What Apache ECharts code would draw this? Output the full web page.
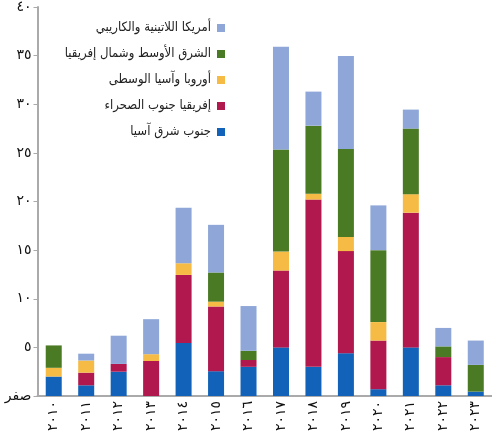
<!DOCTYPE html>
<html><head><meta charset="utf-8">
<script src="https://cdn.jsdelivr.net/npm/echarts@6/dist/echarts.min.js"></script>
<style>html,body{margin:0;padding:0;background:#fff}#c{width:492px;height:443px}</style>
</head><body><div id="c"></div>
<script>
const categories = ['٢٠١٠','٢٠١١','٢٠١٢','٢٠١٣','٢٠١٤','٢٠١٥','٢٠١٦','٢٠١٧','٢٠١٨','٢٠١٩','٢٠٢٠','٢٠٢١','٢٠٢٢','٢٠٢٣'];
const yTickLabels = ['صفر','٥','١٠','١٥','٢٠','٢٥','٣٠','٣٥','٤٠'];
const seriesNames = ['جنوب شرق آسيا','إفريقيا جنوب الصحراء','أوروبا وآسيا الوسطى','الشرق الأوسط وشمال إفريقيا','أمريكا اللاتينية والكاريبي'];
const southeastAsia  = [2.0, 1.1, 2.5, 0,   5.45, 2.55, 3.0, 5.0,  3.0,  4.4,  0.7, 5.0,  1.1, 0.45];
const subSaharan     = [0,   1.3, 0.8, 3.6, 7.0,  6.65, 0.7, 7.9,  17.2, 10.5, 5.0, 13.85, 2.9, 0];
const europeCAsia    = [0.9, 1.25,0,   0.7, 1.2,  0.5,  0,   1.95, 0.6,  1.45, 1.9, 1.9,  0,   0];
const mena           = [2.3, 0,   0,   0,   0,    3.0,  0.95,10.5, 7.0,  9.05, 7.4, 6.75, 1.1, 2.75];
const latinAmerica   = [0,   0.7, 2.9, 3.6, 5.7,  4.9,  4.6, 10.55,3.5,  9.55, 4.6, 1.95, 1.9, 2.5];
const colors = ['#1162b8','#b0184e','#f6bb45','#4a7a24','#8ea7d8'];
const seriesData = [southeastAsia, subSaharan, europeCAsia, mena, latinAmerica];

const chart = echarts.init(document.getElementById('c'));
const font = 'DejaVu Sans';
const legendFont = '"DejaVu Sans Condensed", "DejaVu Sans"';
chart.setOption({
  animation: false,
  textStyle: {fontFamily: font},
  grid: {left: 37.5, right: 0, top: 5, bottom: 47, containLabel: false},
  legend: {
    orient: 'vertical', align: 'right', right: 267, top: 19, padding: 0,
    itemWidth: 8, itemHeight: 8, itemGap: 8, icon: 'rect',
    data: seriesNames.slice().reverse(),
    textStyle: {fontFamily: legendFont, fontSize: 13, color: '#222', lineHeight: 18, padding: [0, 1, 0, 0]}
  },
  xAxis: {
    type: 'category', data: categories,
    axisLine: {lineStyle: {color: '#aaa', width: 2}},
    axisTick: {show: false},
    axisLabel: {rotate: 90, fontSize: 14, color: '#111', margin: 5, fontFamily: font}
  },
  yAxis: {
    type: 'value', min: 0, max: 40, interval: 5,
    splitLine: {show: false},
    axisLine: {show: true, lineStyle: {color: '#aaa', width: 2}},
    axisTick: {show: true, length: 4, lineStyle: {color: '#aaa'}},
    axisLabel: {fontSize: 14, color: '#111', margin: 6, fontFamily: font,
      formatter: v => yTickLabels[Math.round(v / 5)]}
  },
  series: seriesNames.map((n, i) => ({
    name: n, type: 'bar', stack: 'total', barWidth: 16,
    itemStyle: {color: colors[i]},
    data: seriesData[i]
  }))
});
</script></body></html>
